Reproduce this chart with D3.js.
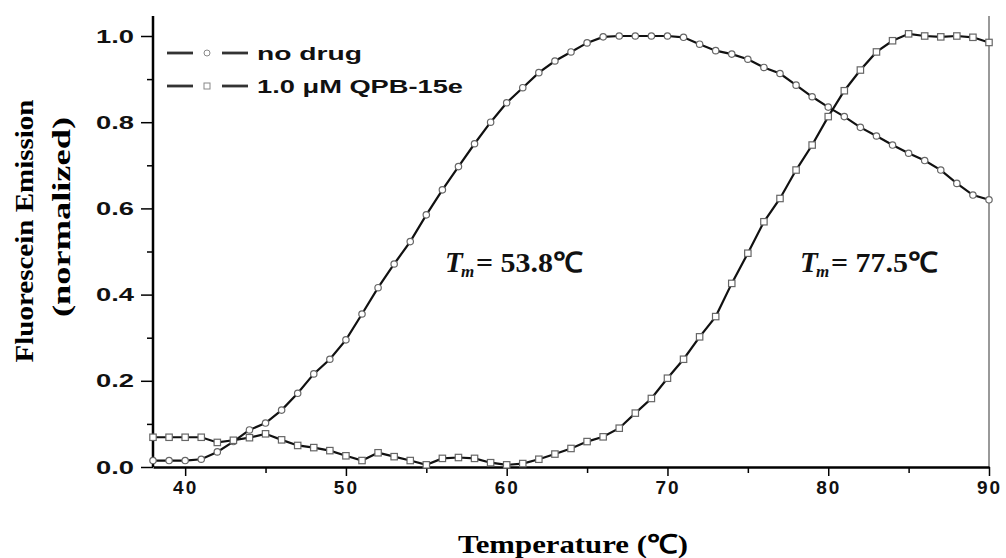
<!DOCTYPE html>
<html>
<script src='https://d3js.org/d3.v7.min.js'></script>
<style>
 body {margin:0; background:#fff;}
 .tick text {font-family:'Liberation Sans',Arial,sans-serif; font-weight:bold; font-size:19px; fill:#111;}
</style>
<body onload='init()'>
<svg width=1006 height=558></svg>
<script>

// temperature (C) of each reading
var temps = [38,39,40,41,42,43,44,45,46,47,48,49,50,51,52,53,54,55,56,57,58,59,60,61,62,63,64,
 65,66,67,68,69,70,71,72,73,74,75,76,77,78,79,80,81,82,83,84,85,86,87,88,89,90];

var noDrug = [0.015,0.015,0.015,0.018,0.035,0.059,0.086,0.102,0.132,0.171,0.216,0.25,0.295,0.355,
 0.416,0.471,0.523,0.585,0.643,0.697,0.75,0.80,0.845,0.88,0.915,0.942,0.963,0.984,0.998,1.0,1.0,
 1.0,1.0,0.997,0.981,0.966,0.958,0.946,0.927,0.913,0.886,0.859,0.835,0.813,0.788,0.768,0.747,
 0.728,0.711,0.689,0.658,0.631,0.62];

var qpb = [0.069,0.069,0.069,0.069,0.057,0.062,0.068,0.077,0.063,0.05,0.045,0.038,0.026,0.015,
 0.033,0.024,0.015,0.005,0.02,0.022,0.02,0.01,0.005,0.008,0.018,0.03,0.043,0.059,0.07,0.09,0.125,
 0.159,0.206,0.25,0.302,0.349,0.426,0.496,0.569,0.623,0.689,0.747,0.813,0.873,0.921,0.963,0.989,
 1.005,1.0,0.998,1.0,0.997,0.985];

var xTicks = [40,50,60,70,80,90];
var yTicks = [0.0,0.2,0.4,0.6,0.8,1.0];
var legendNames = ['no drug','1.0 \u03bcM QPB-15e'];
var tmLabels = ['= 53.8\u2103', '= 77.5\u2103'];

var serif = 'Liberation Serif, Times New Roman, serif';
var sans = 'Liberation Sans, Arial, sans-serif';

function init() {

 var svg = d3.select('svg');
 var left = 153, right = 989, top = 16, bottom = 467;

 var x = d3.scaleLinear().domain([38,90]).range([left,right]);
 var y = d3.scaleLinear().domain([0,1]).range([bottom,36]);

 // right frame line
 svg.append('line').attr('x1',right).attr('x2',right).attr('y1',top).attr('y2',bottom)
   .attr('stroke','#777').attr('stroke-width',1.5);

 // minor ticks
 svg.append('g').attr('transform','translate(0,'+bottom+')')
   .call(d3.axisBottom(x).tickValues([45,55,65,75,85]).tickSize(6).tickFormat(''))
   .call(g => g.select('.domain').remove());
 svg.append('g').attr('transform','translate('+left+',0)')
   .call(d3.axisLeft(y).tickValues([0.1,0.3,0.5,0.7,0.9]).tickSize(6).tickFormat(''))
   .call(g => g.select('.domain').remove());

 var xa = svg.append('g').attr('transform','translate(0,'+bottom+')')
   .call(d3.axisBottom(x).tickValues(xTicks).tickSize(9).tickSizeOuter(0).tickPadding(5));
 xa.select('.domain').attr('stroke-width',2.5);
 xa.selectAll('.tick text').attr('letter-spacing',2);

 var ya = svg.append('g').attr('transform','translate('+left+',0)')
   .call(d3.axisLeft(y).tickValues(yTicks).tickSize(12).tickSizeOuter(0).tickPadding(7)
     .tickFormat(d3.format('.1f')));
 ya.select('.domain').attr('d','M0,'+bottom+'V'+top).attr('stroke-width',2.5);
 ya.selectAll('.tick text').attr('textLength',38).attr('lengthAdjust','spacingAndGlyphs');
 svg.selectAll('.tick line').attr('stroke-width',1.5);

 var line = d3.line().x((d,i) => x(temps[i])).y(d => y(d));

 [noDrug, qpb].forEach(function(s, k) {
   svg.append('path').datum(s).attr('d',line).attr('fill','none')
     .attr('stroke','#111').attr('stroke-width',2.2);
   var g = svg.append('g');
   if (k == 0) {
     g.selectAll('circle').data(s).enter().append('circle')
       .attr('cx',(d,i) => x(temps[i])).attr('cy',d => y(d)).attr('r',3.2)
       .attr('fill','#fff').attr('stroke','#666').attr('stroke-width',1.2);
   } else {
     g.selectAll('rect').data(s).enter().append('rect')
       .attr('x',(d,i) => x(temps[i])-3.2).attr('y',d => y(d)-3.2)
       .attr('width',6.4).attr('height',6.4)
       .attr('fill','#fff').attr('stroke','#666').attr('stroke-width',1.2);
   }
 });

 // legend
 var legendLen = [105, 206];
 legendNames.forEach(function(name, k) {
   var ly = 53 + k*33;
   var lg = svg.append('g');
   lg.append('line').attr('x1',167).attr('x2',193).attr('y1',ly).attr('y2',ly)
     .attr('stroke','#333').attr('stroke-width',2.8);
   lg.append('line').attr('x1',222).attr('x2',248).attr('y1',ly).attr('y2',ly)
     .attr('stroke','#333').attr('stroke-width',2.8);
   if (k == 0) lg.append('circle').attr('cx',207).attr('cy',ly).attr('r',3)
     .attr('fill','#fff').attr('stroke','#888');
   else lg.append('rect').attr('x',204).attr('y',ly-3).attr('width',6).attr('height',6)
     .attr('fill','#fff').attr('stroke','#888');
   lg.append('text').attr('x',257).attr('y',ly+7).text(name)
     .attr('textLength',legendLen[k]).attr('lengthAdjust','spacingAndGlyphs')
     .style('font-family',sans).style('font-weight','bold')
     .style('font-size','19px').attr('fill','#111');
 });

 // Tm annotations
 [445, 800].forEach(function(tx, k) {
   var g = svg.append('g').style('font-family',serif).style('font-weight','bold')
     .attr('fill','#111');
   g.append('text').attr('x',tx).attr('y',272).text('T')
     .style('font-style','italic').style('font-size','29px');
   g.append('text').attr('x',tx+16).attr('y',277).text('m')
     .style('font-style','italic').style('font-size','17px');
   g.append('text').attr('x',tx+31).attr('y',272).text(tmLabels[k])
     .style('font-size','28px').attr('textLength',107).attr('lengthAdjust','spacingAndGlyphs');
 });

 // axis titles
 svg.append('text').attr('transform','translate(33,231) rotate(-90)').attr('text-anchor','middle')
   .style('font-family',serif).style('font-weight','bold').style('font-size','26px')
   .attr('textLength',263).attr('lengthAdjust','spacingAndGlyphs').text('Fluorescein Emission');
 svg.append('text').attr('transform','translate(70,217) rotate(-90)').attr('text-anchor','middle')
   .style('font-family',serif).style('font-weight','bold').style('font-size','26px')
   .attr('textLength',200).attr('lengthAdjust','spacingAndGlyphs').text('(normalized)');
 svg.append('text').attr('x',573).attr('y',553).attr('text-anchor','middle')
   .style('font-family',serif).style('font-weight','bold').style('font-size','26px')
   .attr('textLength',230).attr('lengthAdjust','spacingAndGlyphs').text('Temperature (\u2103)');
}

</script>
</body>
</html>
